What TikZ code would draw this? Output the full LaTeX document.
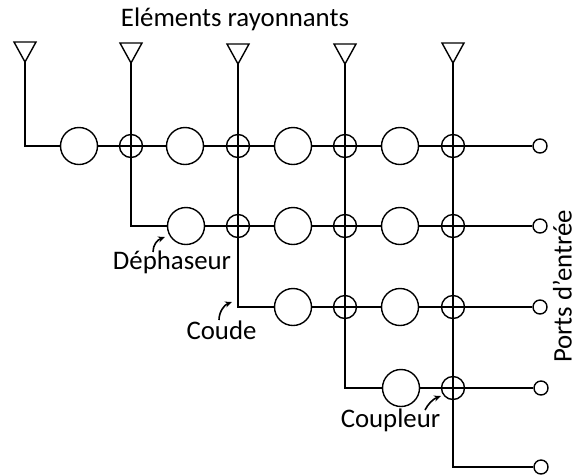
\documentclass[tikz,border=0pt]{standalone}
\usepackage{fontspec}
\setmainfont{Carlito}
\usetikzlibrary{backgrounds,arrows.meta}
\tikzset{
  shifter/.style={circle,draw,line width=1.4pt,fill=white,minimum size=37pt,inner sep=0pt},
  coupler/.style={circle,draw,line width=1.4pt,minimum size=23pt,inner sep=0pt},
  port/.style={circle,draw,line width=1.4pt,fill=white,minimum size=14pt,inner sep=0pt},
  wire/.style={line width=1.4pt,line join=miter},
  antenna/.style={line width=1.4pt,line join=miter},
  pointer/.style={line width=1.6pt,-{Stealth[length=7pt,width=6pt]}},
  lbl/.style={font=\fontsize{26.8}{30}\selectfont,inner sep=0pt,anchor=base}
}
\begin{document}
\begin{tikzpicture}[x=1pt,y=-1pt]
\useasboundingbox (0,0) rectangle (575,475);
% antenna apexes
\foreach \n/\x/\y in {a/25/62,b/131/63,c/238/64,d/345/64,e/453/63}{
  \coordinate (ant\n) at (\x,\y);
  \draw[antenna] (\x,\y) -- (\x-11,\y-20) -- (\x+11,\y-20) -- cycle;
}
% corners
\coordinate (k1) at (25,146);
\coordinate (k2) at (131,226);
\coordinate (k3) at (238,307);
\coordinate (k4) at (345,388);
\coordinate (k5) at (453,467);
% phase shifters
\node[shifter] (s11) at (79,146) {};
\node[shifter] (s12) at (185,146) {};
\node[shifter] (s13) at (293,146) {};
\node[shifter] (s14) at (400,146) {};
\node[shifter] (s22) at (186,226) {};
\node[shifter] (s23) at (293,226) {};
\node[shifter] (s24) at (400,226) {};
\node[shifter] (s33) at (293,307) {};
\node[shifter] (s34) at (400,307) {};
\node[shifter] (s44) at (401,388) {};
% couplers
\node[coupler] (c12) at (131,146) {};
\node[coupler] (c13) at (238,146) {};
\node[coupler] (c14) at (345,146) {};
\node[coupler] (c15) at (453,146) {};
\node[coupler] (c23) at (238,226) {};
\node[coupler] (c24) at (345,226) {};
\node[coupler] (c25) at (453,226) {};
\node[coupler] (c34) at (345,307) {};
\node[coupler] (c35) at (453,307) {};
\node[coupler] (c45) at (453,388) {};
% ports
\node[port] (p1) at (540,146) {};
\node[port] (p2) at (540,226) {};
\node[port] (p3) at (540,307) {};
\node[port] (p4) at (541,388) {};
\node[port] (p5) at (541,467) {};
% wires
\begin{scope}[on background layer]
  \draw[wire] (anta) -- (k1) -- (p1);
  \draw[wire] (antb) -- (k2) -- (p2);
  \draw[wire] (antc) -- (k3) -- (p3);
  \draw[wire] (antd) -- (k4) -- (p4);
  \draw[wire] (ante) -- (k5) -- (p5);
\end{scope}
% labels
\node[lbl] (t1) at (235,26) {Eléments rayonnants};
\node[lbl] (t2) at (172,269) {Déphaseur};
\node[lbl] (t3) at (221.5,339) {Coude};
\node[lbl] (t4) at (390.5,427) {Coupleur};
\node[lbl,rotate=90] (t5) at (571.5,286.5) {Ports d’entrée};
% pointers
\coordinate (d0) at (153,252); \coordinate (d1) at (165,237);
\coordinate (e0) at (219,320); \coordinate (e1) at (232,302);
\coordinate (f0) at (425,410); \coordinate (f1) at (441,396);
\draw[pointer] (d0) .. controls (153,245) and (157,240) .. (d1);
\draw[pointer] (e0) .. controls (219,312) and (224,305) .. (e1);
\draw[pointer] (f0) .. controls (428,404) and (433,399) .. (f1);
\end{tikzpicture}
\end{document}
